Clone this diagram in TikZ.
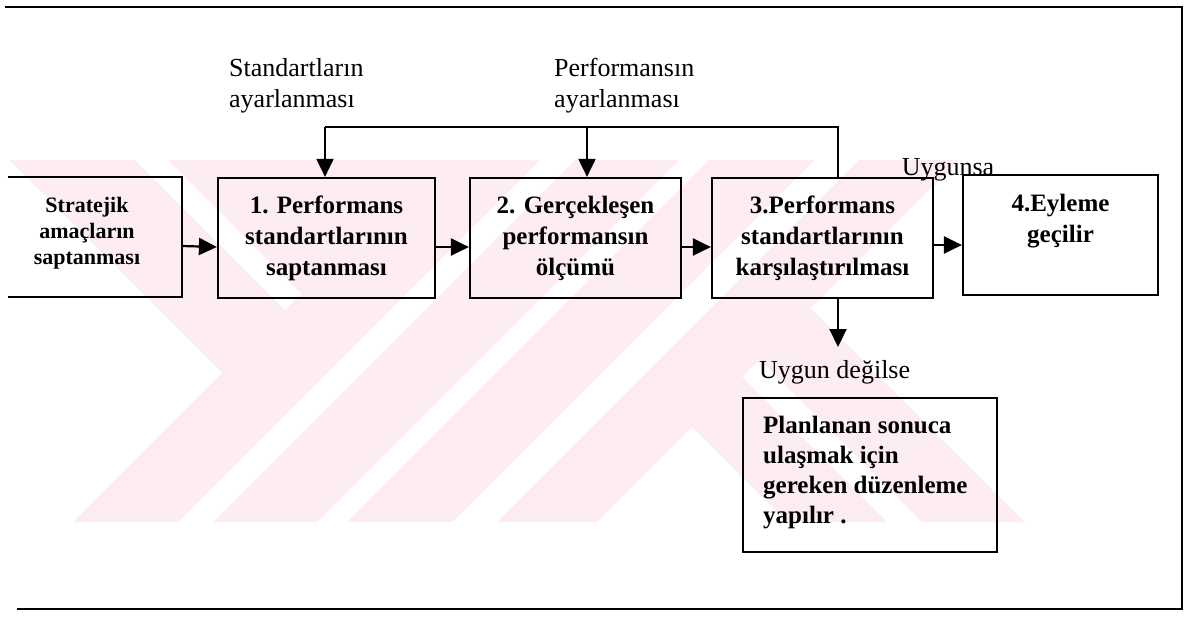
\documentclass[tikz,border=0pt]{standalone}
\usepackage{fontspec}
\setmainfont{Liberation Serif}
\usetikzlibrary{arrows.meta,calc}
\definecolor{wmpink}{RGB}{253,237,240}
\begin{document}
\begin{tikzpicture}[x=1pt,y=-1pt,
  boxnode/.style={draw=black,line width=2.2pt,minimum height=120pt,inner sep=0pt},
  btxt/.style={align=center,inner sep=0pt,font=\bfseries\fontsize{25}{31}\selectfont},
  stxt/.style={align=center,inner sep=0pt,font=\bfseries\fontsize{22}{26}\selectfont},
  lbl/.style={align=left,inner sep=0pt,font=\fontsize{26}{31}\selectfont},
  arr/.style={line width=2.2pt,-{Triangle[length=18pt,width=17pt]}},
  fb/.style={line width=2pt}]
\useasboundingbox (0,0) rectangle (1198,619);
\fill[white] (0,0) rectangle (1198,619);

% background stripes
\begin{scope}
  \clip (0,160) rectangle (1130,522);
  \foreach \a/\b in {595/700,735/839,869/974,1019/1119}
    \fill[wmpink] ({\a-160},160) -- ({\b-160},160) -- ({\b-522},522) -- ({\a-522},522) -- cycle;
  \begin{scope}
    \clip (0,160) -- (490,160) -- (128,522) -- (0,522) -- cycle;
    \foreach \c/\d in {25/150,-300/-8}
      \fill[wmpink] ({160-(\d)},160) -- ({160-(\c)},160) -- ({522-(\c)},522) -- ({522-(\d)},522) -- cycle;
  \end{scope}
  \begin{scope}
    \clip (910,160) -- (1130,160) -- (1130,522) -- (548,522) -- cycle;
    \foreach \c/\d in {-365/-265,-502/-400}
      \fill[wmpink] ({160-(\d)},160) -- ({160-(\c)},160) -- ({522-(\c)},522) -- ({522-(\d)},522) -- cycle;
  \end{scope}
\end{scope}

% outer frame (open on the left)
\draw[line width=1.8pt] (5,7) -- (1182,7) -- (1182,609) -- (17,609);

% process boxes
\node[minimum width=174pt,minimum height=120pt,inner sep=0pt] (b0) at (95,237) {};
\draw[line width=2.2pt] (b0.north west) -- (b0.north east) -- (b0.south east) -- (b0.south west);
\node[boxnode,minimum width=217pt] (b1) at (326.5,238) {};
\node[boxnode,minimum width=211pt] (b2) at (575.5,238) {};
\node[boxnode,minimum width=221pt] (b3) at (822.5,238) {};
\node[boxnode,minimum width=195pt] (b4) at (1060.5,235) {};
\node[boxnode,minimum width=254pt,minimum height=154pt] (b5) at (870,475) {};

% box texts
\node[stxt] (t0) at ([xshift=-8pt,yshift=4pt]b0.center) {Stratejik\\amaçların\\saptanması};
\node[btxt] (t1) at ([yshift=0pt]b1.center) {1. Performans\\standartlarının\\saptanması};
\node[btxt] (t2) at ([yshift=0pt]b2.center) {2. Gerçekleşen\\performansın\\ölçümü};
\node[btxt] (t3) at ([yshift=0pt]b3.center) {3.Performans\\standartlarının\\karşılaştırılması};
\node[btxt] (t4) at ([yshift=14pt]b4.center) {4.Eyleme\\geçilir};
\node[align=left,inner sep=0pt,anchor=west,font=\bfseries\fontsize{25}{30}\selectfont] (t5) at (763,473)
  {Planlanan sonuca\\ulaşmak için\\gereken düzenleme\\yapılır .};

% labels
\node[lbl,anchor=west] (l1) at (229,86) {Standartların\\ayarlanması};
\node[lbl,anchor=west] (l2) at (554,86) {Performansın\\ayarlanması};
\node[lbl] (l3) at (948,170) {Uygunsa};
\node[lbl,anchor=west] (l4) at (759,372) {Uygun değilse};

% forward flow
\draw[arr] ([yshift=-9pt]b0.east) -- ([yshift=-9pt]b1.west);
\draw[arr] ([yshift=-9pt]b1.east) -- ([yshift=-9pt]b2.west);
\draw[arr] ([yshift=-9pt]b2.east) -- ([yshift=-9pt]b3.west);
\draw[arr] ([yshift=-7pt]b3.east) -- ([yshift=-10pt]b4.west);

% feedback loop
\coordinate (fbR) at (838,127);
\coordinate (fbM) at (587,127);
\coordinate (fbL) at (325,127);
\draw[fb] (b3.north -| fbR) -- (fbR) -- (fbL);
\draw[arr,line width=2pt] (fbL) -- (fbL |- b1.north);
\draw[arr,line width=2pt] (fbM) -- (fbM |- b2.north);

% correction branch
\coordinate (dn) at (838,347);
\draw[arr] (b3.south -| dn) -- (dn);
\end{tikzpicture}
\end{document}
